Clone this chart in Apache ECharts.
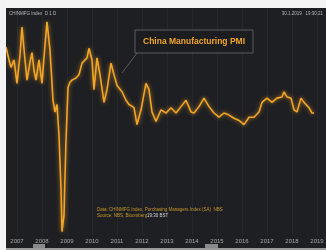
<!DOCTYPE html>
<html lang="en">
<head>
    <meta charset="UTF-8">
    <title>China Manufacturing PMI</title>
    <script src="https://cdn.jsdelivr.net/npm/echarts@6/dist/echarts.min.js"></script>
    <style>
        html, body { margin: 0; padding: 0; background: #f4f4f4; }
        #chart { width: 326px; height: 250px; }
    </style>
</head>
<body>
    <div id="chart"></div>
    <script>
        // decimal years
        var dates = [
            2006.56, 2006.68, 2006.76, 2006.88, 2007.00, 2007.12, 2007.20, 2007.32, 2007.40, 2007.52,
            2007.60, 2007.68, 2007.76, 2007.88, 2008.00, 2008.12, 2008.20, 2008.32, 2008.44, 2008.52,
            2008.60, 2008.68, 2008.76, 2008.80, 2008.88, 2008.96, 2009.04, 2009.12, 2009.20, 2009.36,
            2009.48, 2009.60, 2009.80, 2009.88, 2010.00, 2010.08, 2010.20, 2010.32, 2010.48, 2010.60,
            2010.76, 2010.88, 2011.00, 2011.20, 2011.36, 2011.48, 2011.68, 2011.80, 2011.96, 2012.16,
            2012.28, 2012.40, 2012.56, 2012.76, 2012.96, 2013.16, 2013.36, 2013.56, 2013.76, 2013.96,
            2014.08, 2014.28, 2014.48, 2014.68, 2014.88, 2015.08, 2015.28, 2015.48, 2015.68, 2015.88,
            2016.08, 2016.28, 2016.48, 2016.68, 2016.80, 2017.00, 2017.20, 2017.40, 2017.60, 2017.68,
            2017.80, 2017.96, 2018.08, 2018.20, 2018.36, 2018.48, 2018.68, 2018.80, 2018.88
        ]
        var pmi = [
            56.2, 55.0, 54.3, 55.0, 52.8, 55.5, 58.1, 55.0, 53.1, 54.8,
            55.7, 54.0, 53.1, 55.0, 52.8, 56.4, 58.6, 55.9, 51.2, 50.1,
            50.8, 47.9, 42.8, 38.8, 40.4, 47.5, 52.4, 52.9, 53.1, 53.3,
            53.6, 54.7, 55.2, 56.1, 55.0, 52.2, 55.2, 53.6, 51.0, 52.2,
            54.7, 53.6, 52.6, 52.0, 51.2, 50.8, 50.5, 48.9, 50.3, 52.8,
            52.2, 50.1, 49.2, 50.3, 50.0, 50.5, 50.0, 50.6, 51.2, 50.1,
            50.0, 50.6, 51.4, 50.6, 50.0, 49.6, 50.0, 49.8, 49.5, 49.3,
            48.9, 49.6, 49.6, 50.1, 51.0, 51.4, 51.0, 51.4, 51.5, 52.0,
            51.5, 51.4, 50.3, 50.1, 51.4, 51.0, 50.5, 50.0, 50.0
        ]
        var seriesName = 'China Manufacturing PMI'

        var points = []
        for (var i = 0; i < dates.length; i++) {
            points.push([dates[i], pmi[i]])
        }

        var myChart = echarts.init(document.getElementById('chart'))
        var option = {
            backgroundColor: '#1e1f23',
            animation: false,
            grid: { left: -8, width: 350, top: 8, bottom: 14, containLabel: false, outerBoundsMode: 'none' },
            xAxis: {
                type: 'value',
                min: 2006,
                max: 2020,
                interval: 1,
                axisLine: { show: false },
                axisTick: { show: false },
                splitLine: { show: true, lineStyle: { color: '#26272c', width: 1 } },
                axisLabel: {
                    color: '#a8a8a8',
                    fontSize: 6,
                    margin: 2,
                    fontFamily: 'Liberation Sans',
                    formatter: function(v) { return String(v) }
                }
            },
            yAxis: {
                type: 'value',
                min: 38.4,
                max: 59.9,
                show: false,
                splitLine: { show: false }
            },
            series: [{
                name: seriesName,
                type: 'line',
                data: points,
                symbol: 'none',
                lineStyle: {
                    color: '#f2a526',
                    width: 1.6,
                    shadowBlur: 4,
                    shadowColor: 'rgba(255,170,40,0.7)'
                }
            }],
            graphic: [
                // white border left and top
                { type: 'rect', shape: { x: 0, y: 0, width: 326, height: 8 }, style: { fill: '#f4f4f4' }, z: 100 },
                { type: 'rect', shape: { x: 0, y: 0, width: 6, height: 250 }, style: { fill: '#f2f2f2' }, z: 100 },
                { type: 'rect', shape: { x: 6, y: 248, width: 320, height: 2 }, style: { fill: '#9a9a9a' }, z: 100 },
                // header
                { type: 'text', left: 9, top: 11, style: { text: 'CHINMFG Index  D 1 D', fill: '#bbbbbb', font: '4.5px Liberation Sans' }, z: 50 },
                { type: 'text', right: 3, top: 11, style: { text: '30.1.2019   19:30:21', fill: '#bbbbbb', font: '4.5px Liberation Sans' }, z: 50 },
                // annotation box
                { type: 'line', shape: { x1: 137, y1: 53, x2: 122, y2: 73 }, style: { stroke: '#6a6a6a', lineWidth: 0.8 }, z: 40 },
                { type: 'rect', shape: { x: 135, y: 30, width: 118, height: 23 }, style: { fill: '#1c1d21', stroke: '#5c5c5c', lineWidth: 1 }, z: 40 },
                { type: 'text', x: 194, y: 42, style: { text: seriesName, fill: '#f2a526', font: 'bold 8.5px Liberation Sans', align: 'center', verticalAlign: 'middle' }, z: 41 },
                // source lines
                { type: 'text', x: 97, y: 207, style: { text: 'Data: CHINMFG Index, Purchasing Managers Index (SA)  NBS', fill: '#c8962a', font: '4.5px Liberation Sans' }, z: 50 },
                { type: 'text', x: 97, y: 213, style: { text: 'Source: NBS, Bloomberg', fill: '#c8962a', font: '4.5px Liberation Sans' }, z: 50 },
                { type: 'text', x: 147, y: 213, style: { text: '19:30 BST', fill: '#d8d8d8', font: '4.5px Liberation Sans' }, z: 50 },
                // second row tags under the axis
                { type: 'rect', shape: { x: 33, y: 244, width: 12, height: 4 }, style: { fill: '#8a8a8a' }, z: 50 },
                { type: 'rect', shape: { x: 205, y: 244, width: 13, height: 4 }, style: { fill: '#8a8a8a' }, z: 50 }
            ]
        }
        myChart.setOption(option)
    </script>
</body>
</html>
